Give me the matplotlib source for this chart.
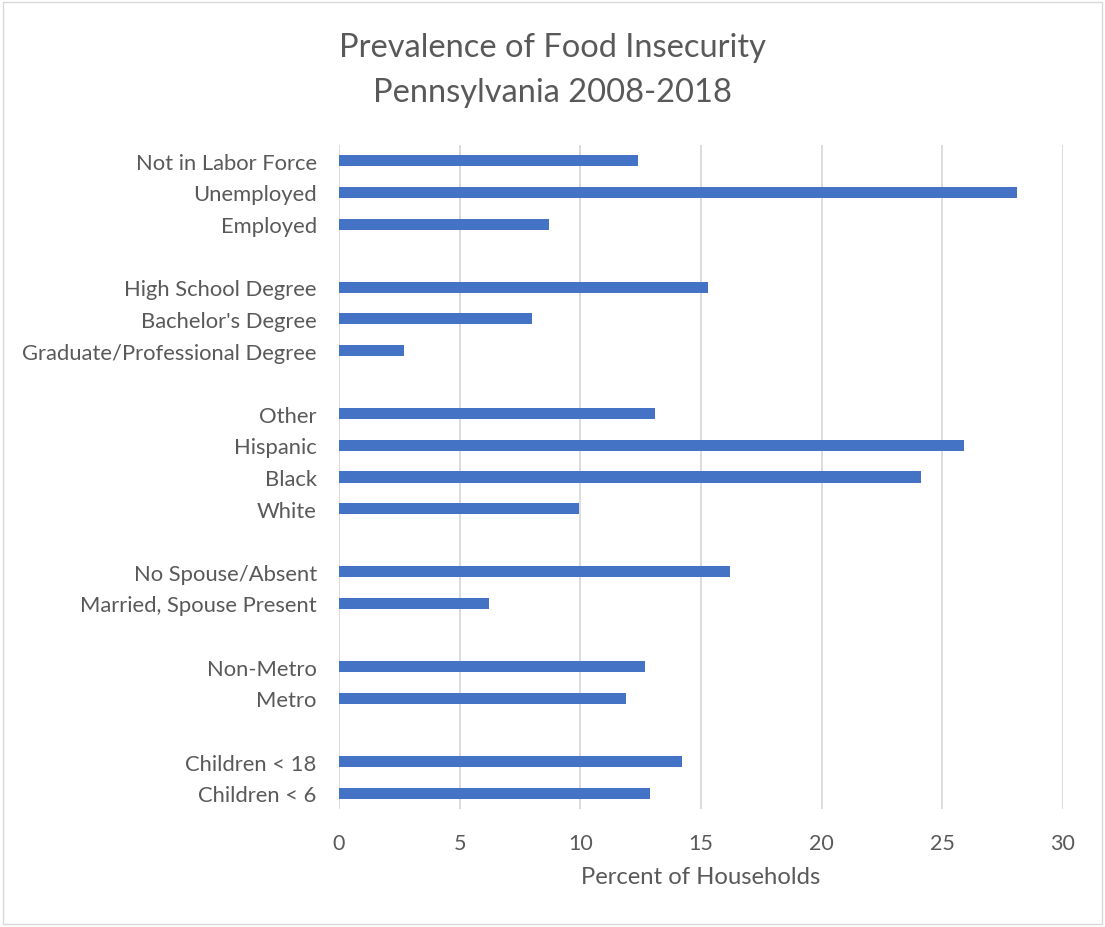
import matplotlib.pyplot as plt
import matplotlib.patches as patches
import numpy as np

# Categories top to bottom, '' marks the blank gap rows between groups
labels = ['Not in Labor Force', 'Unemployed', 'Employed', '',
          'High School Degree', "Bachelor's Degree", 'Graduate/Professional Degree', '',
          'Other', 'Hispanic', 'Black', 'White', '',
          'No Spouse/Absent', 'Married, Spouse Present', '',
          'Non-Metro', 'Metro', '',
          'Children < 18', 'Children < 6']
values = [12.4, 28.1, 8.7, None,
          15.3, 8.0, 2.7, None,
          13.1, 25.9, 24.1, 9.95, None,
          16.2, 6.2, None,
          12.7, 11.9, None,
          14.2, 12.9]
xticks = [0, 5, 10, 15, 20, 25, 30]

plt.rcParams['font.family'] = ['Lato', 'DejaVu Sans']
txt = '#595959'

fig = plt.figure(figsize=(11.05, 9.28), dpi=100)
ax = fig.add_axes([339 / 1105, 1 - 810 / 928, (1063 - 339) / 1105, (810 - 146) / 928])

ypos = np.arange(len(labels))
bars_y = [y for y, v in zip(ypos, values) if v is not None]
bars_v = [v for v in values if v is not None]
ax.barh(bars_y, bars_v, height=0.35, color='#4472C4', zorder=3)

ax.set_ylim(len(labels) - 0.5, -0.5)
ax.set_xlim(0, 30)
ax.set_yticks(ypos)
ax.set_yticklabels(labels)
ax.set_xticks(xticks)
ax.tick_params(axis='both', length=0, colors=txt)
ax.tick_params(axis='y', pad=16, labelsize=15.8)
ax.tick_params(axis='x', pad=17, labelsize=15.5)
ax.grid(axis='x', color='#d9d9d9', linewidth=1.3, zorder=0)
for s in ax.spines.values():
    s.set_visible(False)

ax.set_xlabel('Percent of Households', fontsize=17.2, color=txt, labelpad=10)
fig.text(0.5, 1 - 48 / 928, 'Prevalence of Food Insecurity', ha='center', va='center',
         fontsize=23.5, color=txt)
fig.text(0.5, 1 - 93 / 928, 'Pennsylvania 2008-2018', ha='center', va='center',
         fontsize=23.5, color=txt)

fig.patches.append(patches.Rectangle((3 / 1105, 3 / 928), 1 - 6 / 1105, 1 - 6 / 928,
                                     transform=fig.transFigure, fill=False,
                                     edgecolor='#d9d9d9', linewidth=1))

fig.savefig('out.png', dpi=100, facecolor='white')
